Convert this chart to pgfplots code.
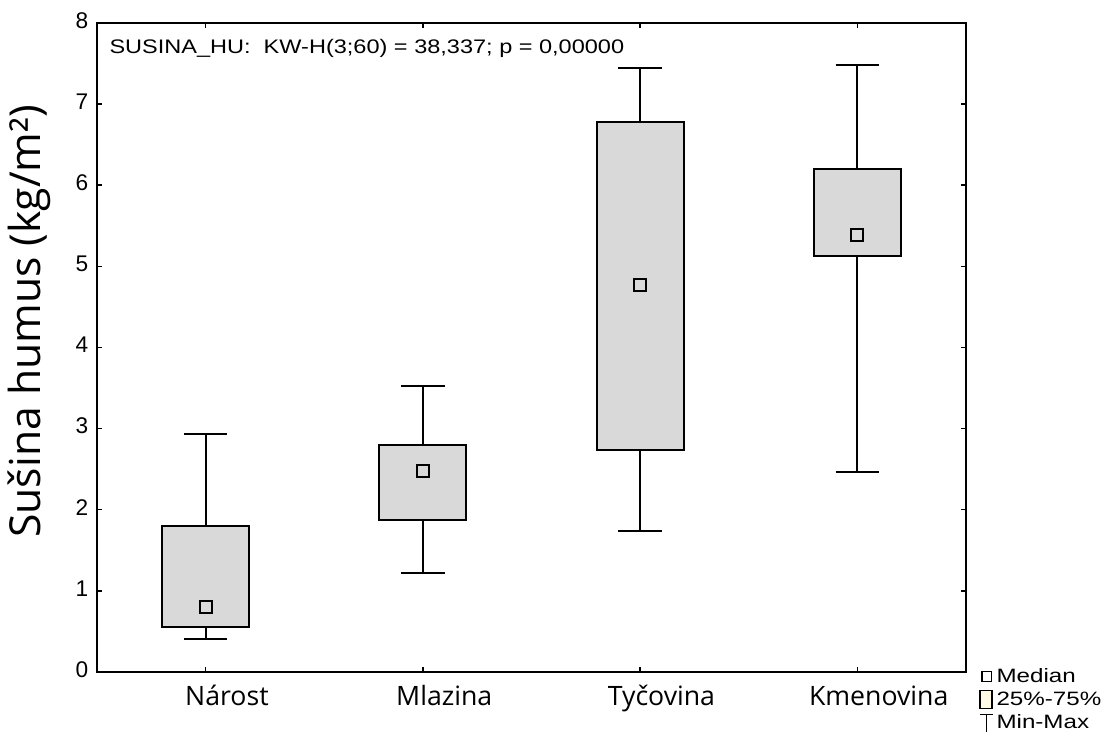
\documentclass[border=0pt]{standalone}
\usepackage{fontspec}
\setmainfont{Liberation Sans}
\newfontfamily\osans{Open Sans}
\usepackage{graphicx}
\usepackage{pgfplots}
\pgfplotsset{compat=1.18}
\usepgfplotslibrary{statistics}
\definecolor{boxgray}{HTML}{D9D9D9}
\definecolor{legfill}{HTML}{FFFBE6}
\begin{document}
\begin{tikzpicture}[x=1pt,y=1pt]
\begin{axis}[
  at={(0,0)}, anchor=south west,
  scale only axis, width=651.75pt, height=487pt,
  xmin=-0.5, xmax=3.5, ymin=0, ymax=8,
  xtick={0,1,2,3}, xticklabels={Nárost,Mlazina,Tyčovina,Kmenovina},
  typeset ticklabels with strut,
  xticklabel style={font=\osans\fontsize{20}{24}\selectfont, yshift=-5pt, xshift=16pt},
  ytick={0,1,2,3,4,5,6,7,8},
  yticklabel style={font=\fontsize{17}{20}\selectfont, xshift=-3pt},
  /pgf/number format/assume math mode=true,
  tick align=inside, major tick length=4pt,
  tick style={black, line width=1pt},
  axis line style={line width=1.4pt},
  ylabel={\osans\fontsize{32}{38}\selectfont Sušina humus (kg/m²)},
  ylabel style={at={(ticklabel cs:0.54)}, yshift=12pt},
  boxplot/draw direction=y,
  boxplot/box extend=0.4,
  boxplot/whisker extend=0.2,
  boxplot/draw/median/.code={%
    \path (boxplot box cs:\pgfplotsboxplotvalue{median},0.5) node[draw=black, line width=1.4pt, fill=boxgray, minimum size=9pt, inner sep=0pt] {};
  },
  clip=false,
  legend style={draw=none, fill=none, at={(1.015,0.01)}, anchor=north west,
    font=\fontsize{14.5}{17}\selectfont, row sep=1.5pt, inner sep=0pt,
    /tikz/every even column/.append style={column sep=4pt}},
  legend cell align=left,
]
\addplot[forget plot, boxplot prepared={lower whisker=0.41, lower quartile=0.55, median=0.80, upper quartile=1.80, upper whisker=2.93, draw position=0}, draw=black, line width=1.5pt, fill=boxgray, solid] coordinates {};
\addplot[forget plot, boxplot prepared={lower whisker=1.22, lower quartile=1.87, median=2.48, upper quartile=2.80, upper whisker=3.52, draw position=1}, draw=black, line width=1.5pt, fill=boxgray, solid] coordinates {};
\addplot[forget plot, boxplot prepared={lower whisker=1.74, lower quartile=2.74, median=4.77, upper quartile=6.78, upper whisker=7.44, draw position=2}, draw=black, line width=1.5pt, fill=boxgray, solid] coordinates {};
\addplot[forget plot, boxplot prepared={lower whisker=2.47, lower quartile=5.13, median=5.38, upper quartile=6.20, upper whisker=7.48, draw position=3}, draw=black, line width=1.5pt, fill=boxgray, solid] coordinates {};
\addlegendimage{legend image code/.code={\draw[black, line width=0.9pt] (5.5pt,-3.5pt) rectangle (12.5pt,3.5pt);}}
\addlegendentry{\scalebox{1.25}[1]{Median}}
\addlegendimage{legend image code/.code={\draw[black, line width=0.9pt, fill=legfill] (4pt,-7pt) rectangle (13pt,7pt);}}
\addlegendentry{\scalebox{1.25}[1]{25\%-75\%}}
\addlegendimage{legend image code/.code={\draw[black, line width=0.9pt] (4pt,6pt) -- (14pt,6pt) (9pt,6pt) -- (9pt,-7pt);}}
\addlegendentry{\scalebox{1.25}[1]{Min-Max}}
\node[anchor=west, font=\fontsize{14.7}{17}\selectfont] at (rel axis cs:0.009,0.961) {\scalebox{1.2}[1]{SUSINA\_HU:\ \ KW-H(3;60) = 38,337; p = 0,00000}};
\end{axis}
\pgfresetboundingbox
\path (-72.75pt,-54pt) rectangle (759.75pt,504pt);
\end{tikzpicture}
\end{document}
